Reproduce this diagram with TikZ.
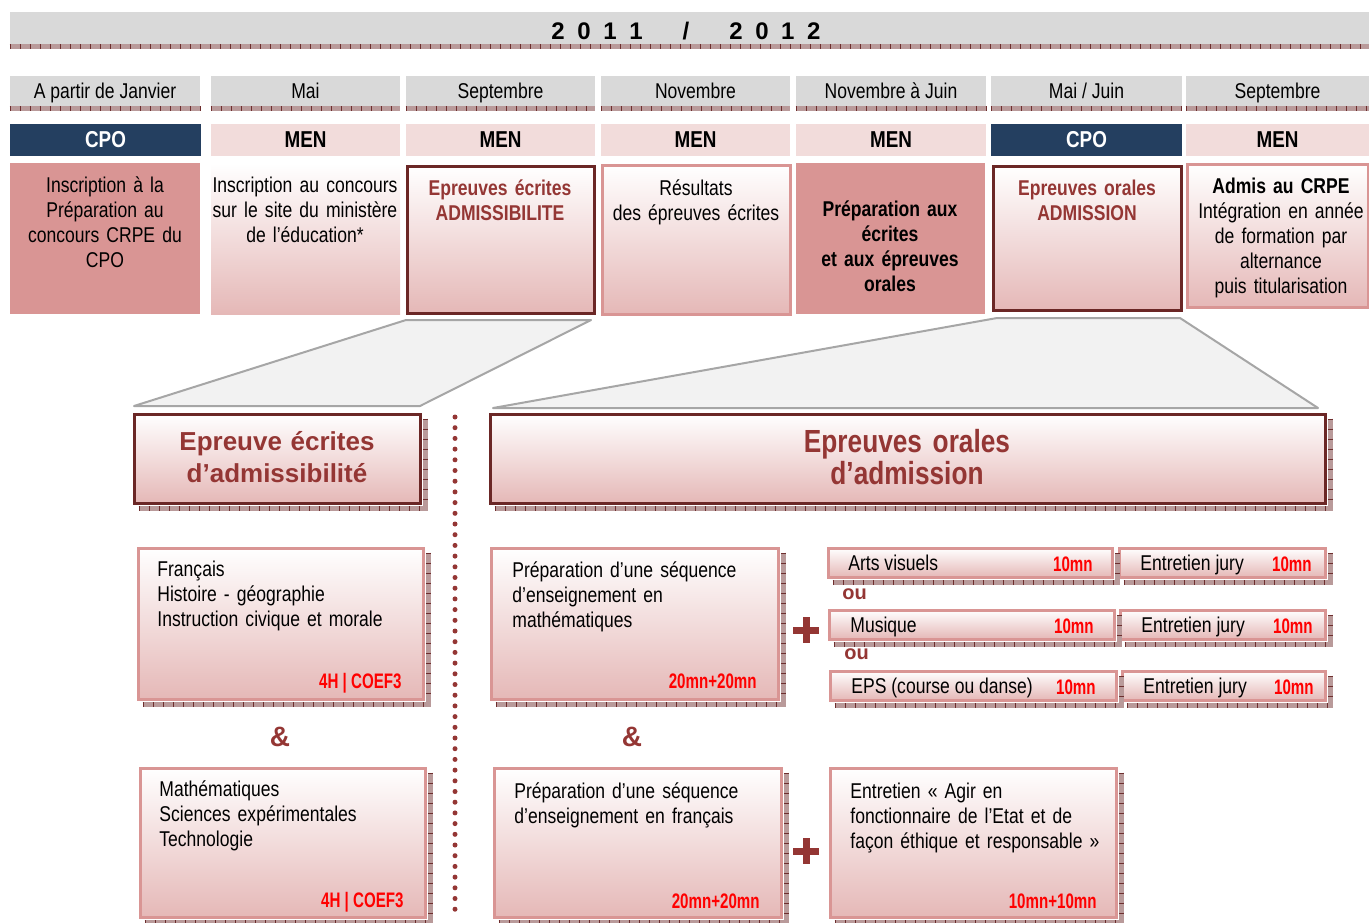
\documentclass[tikz,border=0pt]{standalone}
\usepackage{fontspec}
\setmainfont{Liberation Sans}[FakeStretch=0.82]
\newfontfamily\widebold{Liberation Sans}
\newfontfamily\durfont{Liberation Sans}[FakeStretch=0.72]
\usetikzlibrary{fit}

\definecolor{headgray}{HTML}{D9D9D9}
\definecolor{cponavy}{HTML}{243F60}
\definecolor{menpink}{HTML}{F2DCDB}
\definecolor{rosefill}{HTML}{D99594}
\definecolor{gradpink}{HTML}{E5B8B7}
\definecolor{darkrim}{HTML}{6B2726}
\definecolor{titlered}{HTML}{943634}
\definecolor{durred}{HTML}{FF0000}
\definecolor{stripfill}{HTML}{B99A9A}
\definecolor{stripdark}{HTML}{6E2E2E}
\definecolor{funnelgray}{HTML}{F2F2F2}
\definecolor{funnelrim}{HTML}{A6A6A6}

\tikzset{
  every node/.style={inner sep=0pt},
  monthbox/.style={fill=headgray, minimum width=95pt, minimum height=15pt, text height=8.5pt, text depth=1.5pt, font=\fontsize{10.7}{12.5}\selectfont},
  cpobox/.style={fill=cponavy, text=white, minimum width=95pt, minimum height=16pt, text height=8.5pt, text depth=1.5pt, font=\fontsize{11.5}{13}\selectfont\bfseries},
  menbox/.style={fill=menpink, minimum width=95pt, minimum height=16pt, text height=8.5pt, text depth=1.5pt, font=\fontsize{11.5}{13}\selectfont\bfseries},
  solidcell/.style={fill=rosefill},
  fadecell/.style={top color=white, bottom color=gradpink},
  darkcell/.style={fadecell, draw=darkrim, line width=1.5pt},
  lightcell/.style={fadecell, draw=rosefill, line width=1.5pt},
  celltext/.style={text width=93pt, align=center, anchor=base, font=\fontsize{10.7}{12.5}\selectfont},
  redtitle/.style={text=titlered, font=\fontsize{10.7}{12.5}\selectfont\bfseries},
  bodytext/.style={text width=135pt, align=left, anchor=base west, font=\fontsize{10.7}{12.5}\selectfont},
  linetext/.style={anchor=base west, font=\fontsize{10.7}{12.5}\selectfont},
  durtext/.style={anchor=base east, text=durred, font=\durfont\bfseries\fontsize{10.5}{12}\selectfont},
  funnel/.style={fill=funnelgray, draw=funnelrim, line width=1pt, line join=round},
  bigleft/.style={text width=140pt, align=center, anchor=base, text=titlered, font=\widebold\bfseries\fontsize{13}{16}\selectfont},
  bigright/.style={text width=140pt, align=center, anchor=base, text=titlered, font=\bfseries\fontsize{16}{16}\selectfont},
  ampword/.style={text=titlered, font=\widebold\bfseries\fontsize{14}{16}\selectfont},
  orword/.style={anchor=base west, text=titlered, font=\widebold\bfseries\fontsize{10}{12}\selectfont},
  plusbar/.style={titlered, line width=3.5pt},
  dotline/.style={titlered, line width=2.5pt, line cap=round, dash pattern=on 0pt off 5.35pt},
  yeartext/.style={font=\widebold\bfseries\fontsize{12}{14}\selectfont}
}

\newcommand\hatchunder[1]{%
  \fill[stripfill] (#1.south west) rectangle ([yshift=-2.5pt]#1.south east);
  \draw[stripdark, line width=2.5pt, dash pattern=on 0.5pt off 4.5pt]
    ([yshift=-1.25pt]#1.south west) -- ([yshift=-1.25pt]#1.south east);}

\newcommand\cellshade[1]{%
  \fill[stripfill] ([xshift=3pt,yshift=-0.75pt]#1.south west) rectangle ([xshift=3pt,yshift=-3.25pt]#1.south east);
  \fill[stripfill] ([xshift=0.75pt,yshift=-3pt]#1.north east) rectangle ([xshift=3pt,yshift=-3.25pt]#1.south east);
  \draw[stripdark, line width=2.5pt, dash pattern=on 0.5pt off 4.5pt]
    ([xshift=3pt,yshift=-2pt]#1.south west) -- ([xshift=3pt,yshift=-2pt]#1.south east);
  \draw[stripdark, line width=2.25pt, dash pattern=on 0.5pt off 4.5pt]
    ([xshift=1.9pt,yshift=-3pt]#1.north east) -- ([xshift=1.9pt,yshift=-0.75pt]#1.south east);}

\begin{document}
\begin{tikzpicture}[x=0.5pt, y=-0.5pt]
\useasboundingbox (0,0) rectangle (1369,922);

\node[fill=headgray, fit={(10,12) (1369,44)}] (yearbar) {};
\hatchunder{yearbar}
\node[yeartext] (year) at (686,31) {2\hspace{6.3pt}0\hspace{6.3pt}1\hspace{6.3pt}1\hspace{20pt}/\hspace{20pt}2\hspace{6.3pt}0\hspace{6.3pt}1\hspace{6.3pt}2};

\node[monthbox] (m1) at (105,91) {A partir de Janvier};
\node[monthbox, minimum width=94.5pt] (m2) at (305.5,91) {Mai};
\node[monthbox, minimum width=94.5pt] (m3) at (500.5,91) {Septembre};
\node[monthbox, minimum width=94.5pt] (m4) at (695.5,91) {Novembre};
\node[monthbox] (m5) at (891,91) {Novembre à Juin};
\node[monthbox, minimum width=95.5pt] (m6) at (1086.5,91) {Mai / Juin};
\node[monthbox, minimum width=91.5pt] (m7) at (1277.5,91) {Septembre};
\foreach \m in {m1,m2,m3,m4,m5,m6,m7} {\hatchunder{\m}}

\node[cpobox, minimum width=95.5pt] (o1) at (105.5,140) {CPO};
\node[menbox, minimum width=94.5pt] (o2) at (305.5,140) {MEN};
\node[menbox, minimum width=94.5pt] (o3) at (500.5,140) {MEN};
\node[menbox, minimum width=94.5pt] (o4) at (695.5,140) {MEN};
\node[menbox] (o5) at (891,140) {MEN};
\node[cpobox, minimum width=95.5pt] (o6) at (1086.5,140) {CPO};
\node[menbox, minimum width=91.5pt] (o7) at (1277.5,140) {MEN};

\node[solidcell, fit={(10,163) (200,314)}] (c1) {};
\node[fadecell, fit={(211,163) (400,314)}] (c2) {};
\node[darkcell, fit={(407,166) (594,313)}] (c3) {};
\node[lightcell, fit={(602,165) (790,314)}] (c4) {};
\node[solidcell, fit={(796,163) (985,314)}] (c5) {};
\node[darkcell, fit={(993,166) (1181,310)}] (c6) {};
\node[lightcell, fit={(1187,164) (1368,307)}] (c7) {};

\node[celltext] (t1) at (105,192) {Inscription à la\\Préparation au\\concours CRPE du\\CPO};
\node[celltext] (t2) at (305,192) {Inscription au concours\\sur le site du ministère\\de l’éducation*};
\node[celltext, redtitle] (t3) at (500,195) {Epreuves écrites\\ADMISSIBILITE};
\node[celltext] (t4) at (696,195) {Résultats\\des épreuves écrites};
\node[celltext, font=\fontsize{10.7}{12.5}\selectfont\bfseries] (t5) at (890,216) {Préparation aux\\écrites\\et aux épreuves\\orales};
\node[celltext, redtitle] (t6) at (1087,195) {Epreuves orales\\ADMISSION};
\node[celltext] (t7) at (1281,193) {\textbf{Admis au CRPE}\\Intégration en année\\de formation par\\alternance\\puis titularisation};

\draw[funnel] (406,320) -- (591,320) -- (420,406) -- (134,406) -- cycle;
\draw[funnel] (997,318) -- (1180,318) -- (1318,408) -- (493,408) -- cycle;

\node[darkcell, fit={(134,414) (420,503)}] (h1) {};
\node[darkcell, fit={(490,414) (1325,503)}] (h2) {};
\cellshade{h1}
\cellshade{h2}
\node[bigleft] (h1t) at (277,450) {Epreuve écrites\\d’admissibilité};
\node[bigright] (h2t) at (907,452) {Epreuves orales\\d’admission};

\draw[dotline] (455,417) -- (455,914);

\node[lightcell, fit={(138,548) (423,699)}] (ba) {};
\node[lightcell, fit={(140,768) (425,917)}] (bb) {};
\node[lightcell, fit={(491,548) (778,699)}] (bc) {};
\node[lightcell, fit={(494,768) (781,917)}] (bd) {};
\node[lightcell, fit={(830,768) (1116,917)}] (be) {};
\foreach \b in {ba,bb,bc,bd,be} {\cellshade{\b}}

\node[bodytext] (ta) at (157,576) {Français\\Histoire - géographie\\Instruction civique et morale};
\node[durtext] (da) at (402,688) {4H | COEF3};
\node[bodytext] (tb) at (159,796) {Mathématiques\\Sciences expérimentales\\Technologie};
\node[durtext] (db) at (404,907) {4H | COEF3};
\node[bodytext] (tc) at (512,577) {Préparation d’une séquence\\d’enseignement en\\mathématiques};
\node[durtext] (dc) at (757,688) {20mn+20mn};
\node[bodytext] (td) at (514,798) {Préparation d’une séquence\\d’enseignement en français};
\node[durtext] (dd) at (760,908) {20mn+20mn};
\node[bodytext] (te) at (850,798) {Entretien « Agir en\\fonctionnaire de l’Etat et de\\façon éthique et responsable »};
\node[durtext] (de) at (1097,908) {10mn+10mn};

\node[ampword] (amp1) at (280,737) {\&};
\node[ampword] (amp2) at (632,737) {\&};

\draw[plusbar] (793,630) -- (819,630) (806,617) -- (806,643);
\draw[plusbar] (793,851) -- (819,851) (806,838) -- (806,864);

\node[lightcell, fit={(828,548) (1112,577)}] (s1) {};
\node[lightcell, fit={(1119,548) (1325,577)}] (j1) {};
\node[lightcell, fit={(829,610) (1114,639)}] (s2) {};
\node[lightcell, fit={(1120,610) (1325,639)}] (j2) {};
\node[lightcell, fit={(830,671) (1116,700)}] (s3) {};
\node[lightcell, fit={(1122,671) (1325,700)}] (j3) {};
\foreach \s in {s1,j1,s2,j2,s3,j3} {\cellshade{\s}}

\node[linetext] (s1t) at (848,570) {Arts visuels};
\node[durtext] (s1d) at (1093,571) {10mn};
\node[linetext] (j1t) at (1140,570) {Entretien jury};
\node[durtext] (j1d) at (1312,571) {10mn};
\node[linetext] (s2t) at (850,632) {Musique};
\node[durtext] (s2d) at (1094,633) {10mn};
\node[linetext] (j2t) at (1141,632) {Entretien jury};
\node[durtext] (j2d) at (1313,633) {10mn};
\node[linetext] (s3t) at (851,693) {EPS (course ou danse)};
\node[durtext] (s3d) at (1096,694) {10mn};
\node[linetext] (j3t) at (1143,693) {Entretien jury};
\node[durtext] (j3d) at (1314,694) {10mn};

\node[orword] (ou1) at (842,599) {ou};
\node[orword] (ou2) at (844,659) {ou};
\end{tikzpicture}
\end{document}
